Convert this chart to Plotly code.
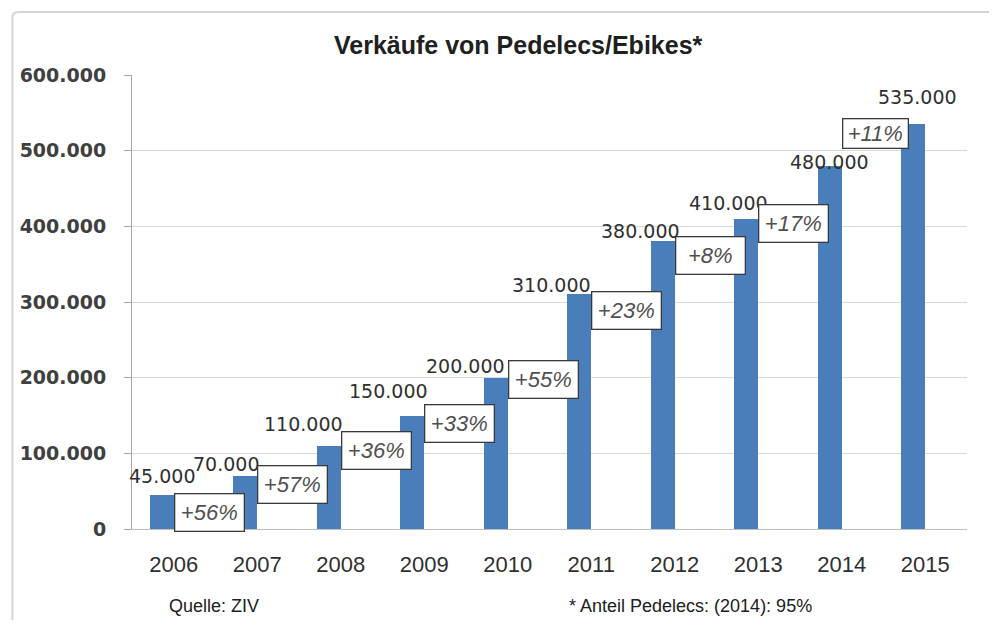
import plotly.graph_objects as go

years = ["2006", "2007", "2008", "2009", "2010", "2011", "2012", "2013", "2014", "2015"]
sales = [45000, 70000, 110000, 150000, 200000, 310000, 380000, 410000, 480000, 535000]
value_labels = ["45.000", "70.000", "110.000", "150.000", "200.000", "310.000",
                "380.000", "410.000", "480.000", "535.000"]
growth_labels = ["+56%", "+57%", "+36%", "+33%", "+55%", "+23%", "+8%", "+17%", "+11%"]
y_ticks = [0, 100000, 200000, 300000, 400000, 500000, 600000]
y_tick_labels = ["0", "100.000", "200.000", "300.000", "400.000", "500.000", "600.000"]

# --- style: label placement nudges (pixels) ---
value_dx = [0, -19, -25, -24, -30, -28, -22, -18, 0, 4]
value_dy = [6, -1, 9, 12, -1, -4, -3, 3, -9, 14]
growth_dy = [2, 11, 15, 12, 18, 3, 5, 15, 48]
growth_w = [62, 62, 62, 62, 62, 62, 62, 62, 58]
growth_h = [30, 30, 30, 30, 30, 30, 30, 30, 22]

BAR_W = 0.286
xs = list(range(len(years)))

# page body has an 8px margin; figure sized to fit window
OFF = 8
FW, FH = 981, 612
L, R, T, B = 121, 22, 67, 91
PW, PH = FW - L - R, FH - T - B


def px(X):  # window x -> paper x
    return (X - OFF - L) / PW


def py(Y):  # window y -> paper y
    return (FH - B - (Y - OFF)) / PH


fig = go.Figure()
fig.add_trace(go.Bar(
    x=xs, y=sales, offset=-BAR_W, width=BAR_W,
    marker=dict(color="#4a7ebb", line=dict(width=0)),
    hoverinfo="skip", showlegend=False,
))

narrow = "Liberation Sans Narrow, Liberation Sans"
annotations = []
for i, (v, lab) in enumerate(zip(sales, value_labels)):
    annotations.append(dict(
        x=i - BAR_W / 2, y=v, xref="x", yref="y", text=lab, showarrow=False,
        xanchor="center", yanchor="bottom", xshift=value_dx[i], yshift=value_dy[i],
        font=dict(family="DejaVu Sans", size=19, color="#303030"),
    ))
for i, lab in enumerate(growth_labels):
    annotations.append(dict(
        x=i, y=sales[i], xref="x", yref="y", text="<i>" + lab + "</i>", showarrow=False,
        xanchor="left", yanchor="top", yshift=growth_dy[i],
        width=growth_w[i], height=growth_h[i], align="center", valign="middle",
        bgcolor="white", bordercolor="#3a3a3a", borderwidth=1.3, borderpad=3,
        font=dict(family=narrow, size=22, color="#505050"),
    ))
annotations.append(dict(
    x=px(517), y=py(45), xref="paper", yref="paper", text="<b>Verkäufe von Pedelecs/Ebikes*</b>",
    showarrow=False, xanchor="center", yanchor="middle",
    font=dict(family=narrow, size=25, color="#202020"),
))
annotations.append(dict(
    x=px(164), y=py(606), xref="paper", yref="paper", text="Quelle: ZIV", showarrow=False,
    xanchor="left", yanchor="middle",
    font=dict(family=narrow, size=18, color="#202020"),
))
annotations.append(dict(
    x=px(566), y=py(606), xref="paper", yref="paper", text="* Anteil Pedelecs: (2014): 95%",
    showarrow=False, xanchor="left", yanchor="middle",
    font=dict(family=narrow, size=18, color="#202020"),
))

fx0 = px(9)
fy0 = py(12)
fig.add_shape(type="path", xref="paper", yref="paper",
              path=f"M {fx0} -0.5 L {fx0} {fy0 - 0.012} Q {fx0} {fy0} {fx0 + 0.008} {fy0} L 1.2 {fy0}",
              line=dict(color="#d4d4d4", width=2))

fig.update_layout(
    width=FW, height=FH,
    margin=dict(l=L, r=R, t=T, b=B),
    paper_bgcolor="white", plot_bgcolor="white",
    bargap=0,
    annotations=annotations,
    xaxis=dict(
        range=[-0.5, 9.5], tickmode="array", tickvals=xs, ticktext=years,
        showgrid=False, zeroline=False, showline=True, linecolor="#bfbfbf", linewidth=1,
        ticks="", ticklabelstandoff=16,
        tickfont=dict(family=narrow, size=22, color="#303030"),
        fixedrange=True,
    ),
    yaxis=dict(
        range=[0, 600000], tickmode="array", tickvals=y_ticks, ticktext=y_tick_labels,
        showgrid=True, gridcolor="#d9d9d9", gridwidth=1, zeroline=False,
        showline=True, linecolor="#a6a6a6", linewidth=1,
        ticks="outside", ticklen=7, tickcolor="#a6a6a6", ticklabelstandoff=14,
        tickfont=dict(family="DejaVu Sans", size=19, color="#404040", weight="bold"),
        fixedrange=True,
    ),
)
fig.write_html("out.html")
